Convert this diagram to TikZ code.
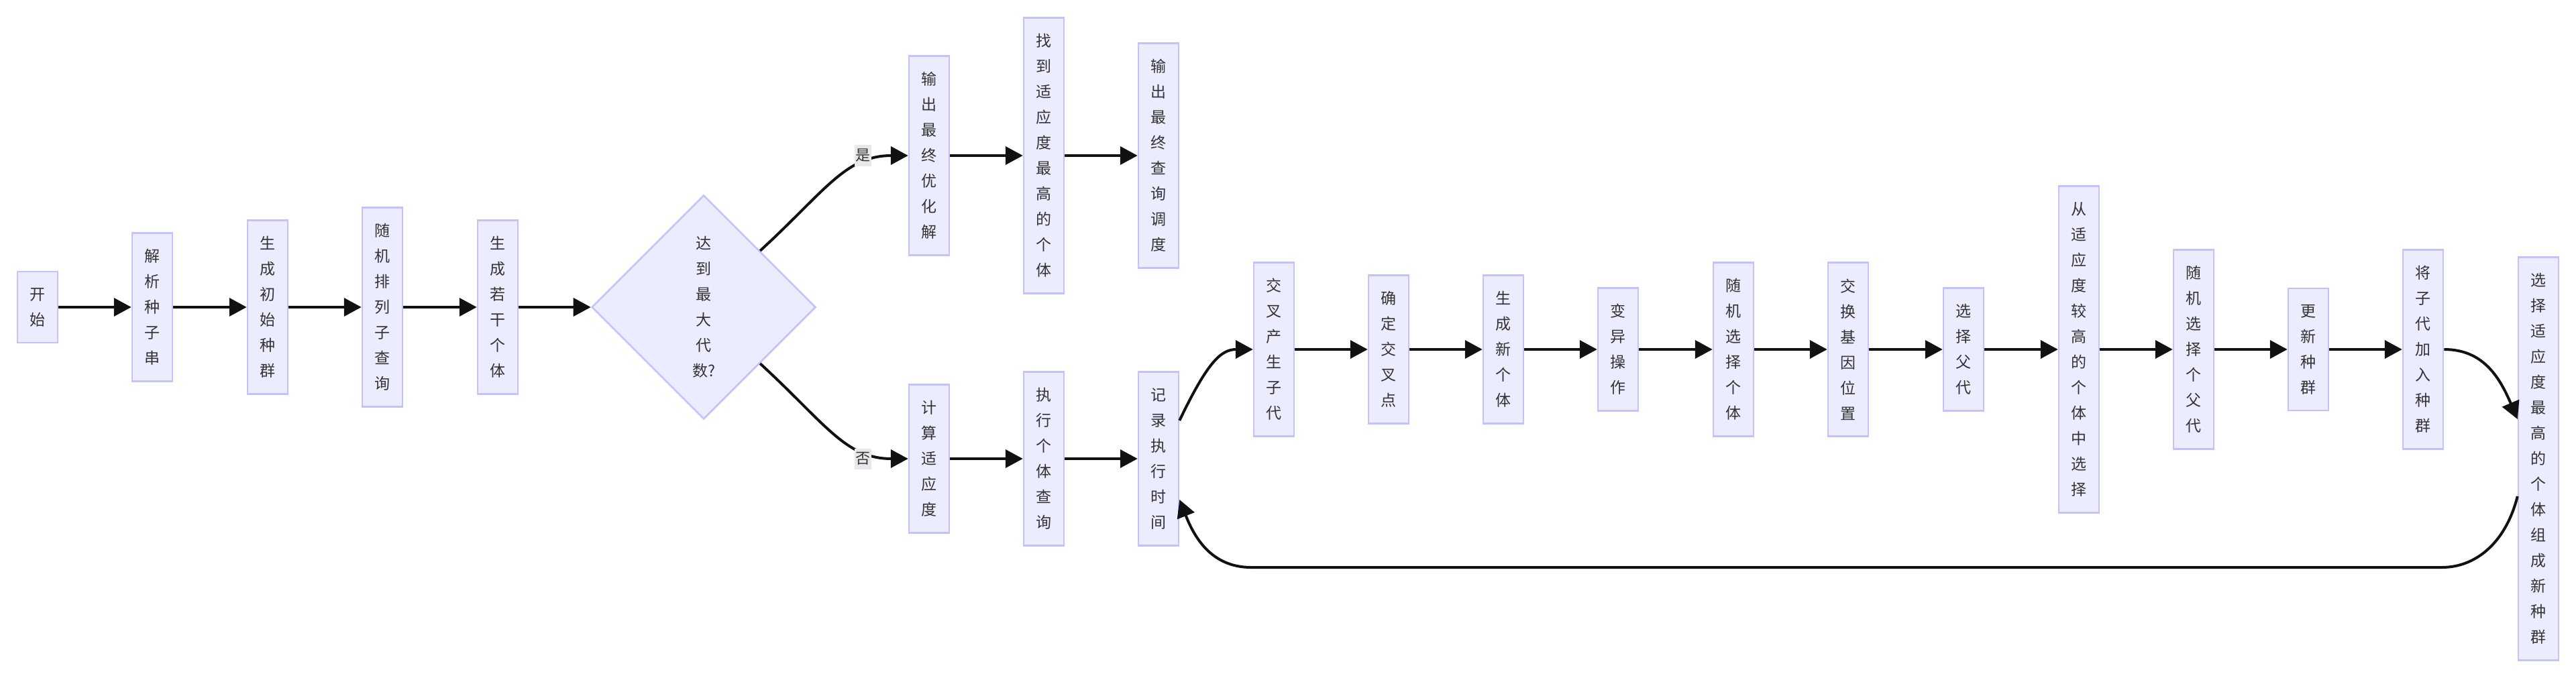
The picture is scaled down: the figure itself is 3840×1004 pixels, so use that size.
\documentclass[tikz,border=0pt]{standalone}
\usepackage{fontspec}
\usetikzlibrary{arrows.meta,shapes.geometric}
\newfontfamily\cjkfont{Noto Sans CJK SC}
\definecolor{boxfill}{HTML}{ECECFF}
\definecolor{boxline}{HTML}{C3C3FA}
\definecolor{txt}{HTML}{333333}
\definecolor{lblbg}{HTML}{E8E8EC}
\definecolor{wire}{HTML}{111111}
\tikzset{
  box/.style={draw=boxline, fill=boxfill, line width=2.5pt, minimum width=60pt, inner xsep=0pt, inner ysep=24pt,
    align=center, text=txt, font=\cjkfont\fontsize{23pt}{38pt}\selectfont},
  decision/.style={box, diamond, aspect=1, minimum width=334pt, minimum height=334pt, inner sep=0pt},
  lbl/.style={fill=lblbg, inner xsep=1.5pt, inner ysep=6pt, text=txt, font=\cjkfont\fontsize{22pt}{26pt}\selectfont},
  flow/.style={draw=wire, line width=4pt, -{Triangle[length=26pt,width=27pt]}},
}
\begin{document}
\begin{tikzpicture}[x=1pt, y=-1pt]
        \useasboundingbox[fill=white] (0,0) rectangle (3840,1004);
        \node[box] (start) at (56,458) {开\\始};
        \node[box] (parse) at (227,458) {解\\析\\种\\子\\串};
        \node[box] (init) at (399,458) {生\\成\\初\\始\\种\\群};
        \node[box] (perm) at (570,458) {随\\机\\排\\列\\子\\查\\询};
        \node[box] (gen) at (742,458) {生\\成\\若\\干\\个\\体};
        \node[decision] (dec) at (1049,458) {达\\到\\最\\大\\代\\数?};
        \node[box] (outopt) at (1385,232) {输\\出\\最\\终\\优\\化\\解};
        \node[box] (best) at (1556,232) {找\\到\\适\\应\\度\\最\\高\\的\\个\\体};
        \node[box] (outsch) at (1727,232) {输\\出\\最\\终\\查\\询\\调\\度};
        \node[box] (fit) at (1385,684) {计\\算\\适\\应\\度};
        \node[box] (exec) at (1556,684) {执\\行\\个\\体\\查\\询};
        \node[box] (rec) at (1727,684) {记\\录\\执\\行\\时\\间};
        \node[box] (cross) at (1899,521) {交\\叉\\产\\生\\子\\代};
        \node[box] (cpoint) at (2070,521) {确\\定\\交\\叉\\点};
        \node[box] (newind) at (2241,521) {生\\成\\新\\个\\体};
        \node[box] (mut) at (2412,521) {变\\异\\操\\作};
        \node[box] (rsel) at (2584,521) {随\\机\\选\\择\\个\\体};
        \node[box] (swap) at (2755,521) {交\\换\\基\\因\\位\\置};
        \node[box] (par) at (2927,521) {选\\择\\父\\代};
        \node[box] (hisel) at (3099,521) {从\\适\\应\\度\\较\\高\\的\\个\\体\\中\\选\\择};
        \node[box] (rpar) at (3270,521) {随\\机\\选\\择\\个\\父\\代};
        \node[box] (upd) at (3441,521) {更\\新\\种\\群};
        \node[box] (join) at (3612,521) {将\\子\\代\\加\\入\\种\\群};
        \node[box] (newpop) at (3784,684) {选\\择\\适\\应\\度\\最\\高\\的\\个\\体\\组\\成\\新\\种\\群};

        \draw[flow] (start) -- (parse);
        \draw[flow] (parse) -- (init);
        \draw[flow] (init) -- (perm);
        \draw[flow] (perm) -- (gen);
        \draw[flow] (gen) -- (dec);
        \draw[flow] (dec.north east) .. controls (1230,285) and (1260,232) .. (outopt.west);
        \draw[flow] (dec.south east) .. controls (1230,631) and (1260,684) .. (fit.west);
        \draw[flow] (outopt) -- (best);
        \draw[flow] (best) -- (outsch);
        \draw[flow] (fit) -- (exec);
        \draw[flow] (exec) -- (rec);
        \draw[flow] ([yshift=57pt]rec.east) .. controls (1800,540) and (1820,521) .. (cross.west);
        \draw[flow] (cross) -- (cpoint);
        \draw[flow] (cpoint) -- (newind);
        \draw[flow] (newind) -- (mut);
        \draw[flow] (mut) -- (rsel);
        \draw[flow] (rsel) -- (swap);
        \draw[flow] (swap) -- (par);
        \draw[flow] (par) -- (hisel);
        \draw[flow] (hisel) -- (rpar);
        \draw[flow] (rpar) -- (upd);
        \draw[flow] (upd) -- (join);
        \draw[flow] (join.east) .. controls (3700,521) and (3725,560) .. ([yshift=59pt]newpop.west);
        \draw[flow] ([yshift=-56pt]newpop.west) .. controls (3735,810) and (3690,846) .. (3640,846)
          -- (1865,846) .. controls (1805,846) and (1780,800) .. ([yshift=-61pt]rec.east);

        \node[lbl] (yes) at (1286,232) {是};
        \node[lbl] (no) at (1286,684) {否};
\end{tikzpicture}
\end{document}
